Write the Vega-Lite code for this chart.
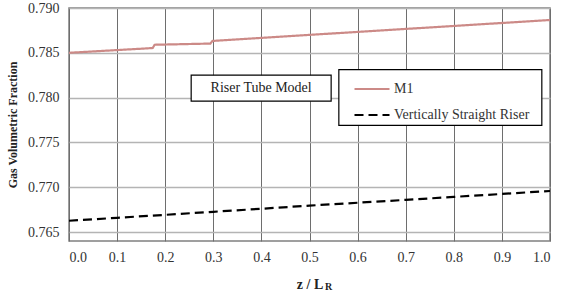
{
  "$schema": "https://vega.github.io/schema/vega-lite/v6.json",
  "width": 481,
  "height": 233,
  "autosize": "none",
  "padding": {"left": 69, "top": 8, "right": 15, "bottom": 56},
  "background": "white",
  "config": {
    "font": "Liberation Serif",
    "view": {"stroke": "#808080", "strokeWidth": 1.5},
    "axis": {"labelFont": "Liberation Serif", "labelFontSize": 14, "labelColor": "#333333", "ticks": false, "domain": false, "titleFont": "Liberation Serif", "titleFontWeight": "bold", "titleColor": "#222222"},
    "legend": {"labelFont": "Liberation Serif"}
  },
  "datasets": {
    "lines": [
      {"z": 0.0, "frac": 0.78500, "series": "M1"},
      {"z": 0.174, "frac": 0.78553, "series": "M1"},
      {"z": 0.178, "frac": 0.78590, "series": "M1"},
      {"z": 0.294, "frac": 0.78603, "series": "M1"},
      {"z": 0.298, "frac": 0.78632, "series": "M1"},
      {"z": 0.5, "frac": 0.78700, "series": "M1"},
      {"z": 0.75, "frac": 0.78783, "series": "M1"},
      {"z": 1.0, "frac": 0.78866, "series": "M1"},
      {"z": 0.0, "frac": 0.76626, "series": "Vertically Straight Riser"},
      {"z": 0.1, "frac": 0.76659, "series": "Vertically Straight Riser"},
      {"z": 0.2, "frac": 0.76692, "series": "Vertically Straight Riser"},
      {"z": 0.3, "frac": 0.76726, "series": "Vertically Straight Riser"},
      {"z": 0.4, "frac": 0.76760, "series": "Vertically Straight Riser"},
      {"z": 0.5, "frac": 0.76795, "series": "Vertically Straight Riser"},
      {"z": 0.6, "frac": 0.76827, "series": "Vertically Straight Riser"},
      {"z": 0.7, "frac": 0.76859, "series": "Vertically Straight Riser"},
      {"z": 0.8, "frac": 0.76892, "series": "Vertically Straight Riser"},
      {"z": 0.9, "frac": 0.76925, "series": "Vertically Straight Riser"},
      {"z": 1.0, "frac": 0.76958, "series": "Vertically Straight Riser"}
    ]
  },
  "layer": [
    {
      "data": {"name": "lines"},
      "mark": {"type": "line", "strokeWidth": 2.2, "clip": true},
      "encoding": {
        "x": {"field": "z", "type": "quantitative", "scale": {"domain": [0, 1]},
              "axis": {"values": [0,0.1,0.2,0.3,0.4,0.5,0.6,0.7,0.8,0.9,1.0], "format": ".1f", "gridColor": "#6e6e6e", "gridWidth": 1, "labelPadding": 9, "title": "z / L", "titleFontSize": 14, "titlePadding": 13}},
        "y": {"field": "frac", "type": "quantitative", "scale": {"domain": [0.765, 0.79], "zero": false},
              "axis": {"values": [0.765,0.77,0.775,0.78,0.785,0.79], "format": ".3f", "gridColor": "#b4b4b4", "gridWidth": 1.5, "labelPadding": 10, "title": "Gas Volumetric Fraction", "titleFontSize": 12, "titlePadding": 8}},
        "color": {"field": "series", "type": "nominal", "scale": {"domain": ["M1", "Vertically Straight Riser"], "range": ["#cc8a87", "#000000"]},
                  "legend": {"title": null, "orient": "none", "legendX": 284, "legendY": 62, "padding": 0, "rowPadding": -7, "symbolType": "stroke", "symbolSize": 1225, "symbolStrokeWidth": 2.2, "labelFontSize": 14, "labelColor": "#333333", "labelLimit": 300, "labelOffset": 3, "offset": 0}},
        "strokeDash": {"field": "series", "type": "nominal", "scale": {"domain": ["M1", "Vertically Straight Riser"], "range": [[1, 0], [9, 5]]}, "legend": null}
      }
    },
    {
      "data": {"values": [{"box": "legend"}]},
      "mark": {"type": "rect", "fill": "white", "stroke": "black", "strokeWidth": 1.2},
      "encoding": {
        "x": {"datum": 0.561, "type": "quantitative"},
        "x2": {"datum": 0.983},
        "y": {"datum": 0.78313, "type": "quantitative"},
        "y2": {"datum": 0.77691}
      }
    },
    {
      "data": {"values": [{"label": "Riser Tube Model"}]},
      "mark": {"type": "rect", "fill": "white", "stroke": "black", "strokeWidth": 1.2},
      "encoding": {
        "x": {"datum": 0.254, "type": "quantitative"},
        "x2": {"datum": 0.545},
        "y": {"datum": 0.7825, "type": "quantitative"},
        "y2": {"datum": 0.7796}
      }
    },
    {
      "data": {"values": [{"label": "Riser Tube Model"}]},
      "mark": {"type": "text", "font": "Liberation Serif", "fontSize": 14, "color": "#222222", "baseline": "middle", "align": "center"},
      "encoding": {
        "x": {"datum": 0.3995, "type": "quantitative"},
        "y": {"datum": 0.78105, "type": "quantitative"},
        "text": {"field": "label"}
      }
    },
    {
      "data": {"values": [{"sub": "R"}]},
      "mark": {"type": "text", "font": "Liberation Serif", "fontSize": 10, "fontWeight": "bold", "color": "#222222", "baseline": "alphabetic", "align": "left", "dy": 58},
      "encoding": {
        "x": {"datum": 0.532, "type": "quantitative"},
        "y": {"datum": 0.765, "type": "quantitative"},
        "text": {"field": "sub"}
      }
    }
  ]
}
